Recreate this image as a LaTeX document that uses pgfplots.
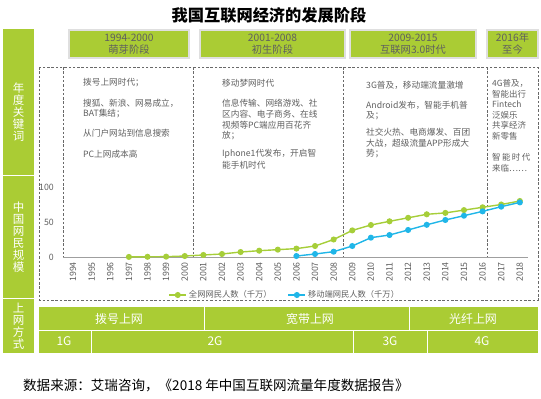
\documentclass[border=0pt]{standalone}
\usepackage{fontspec}
\setmainfont{Noto Sans CJK SC}
\usepackage{pgfplots}
\pgfplotsset{compat=1.18}
\definecolor{gr}{RGB}{170,204,52}
\definecolor{ln}{RGB}{166,206,57}
\definecolor{bl}{RGB}{32,182,232}
\definecolor{dg}{RGB}{105,105,105}
\definecolor{tx}{RGB}{95,95,95}
\newcommand{\fs}[2]{\fontsize{#1}{#2}\selectfont}
\begin{document}
\begin{tikzpicture}
\useasboundingbox (0,0) rectangle (541bp,-399bp);
\begin{scope}[x=1bp,y=-1bp]
% title
\node[font=\fs{16.3}{17}\bfseries] at (269,15) {我国互联网经济的发展阶段};
% left column
\fill[gr] (3,29) rectangle (34,353);
\draw[white, line width=0.9] (3,175) -- (34,175) (3,298) -- (34,298);
\node[white, font=\fs{11.5}{12}, align=center] at (18.5,112) {年\\度\\关\\键\\词};
\node[white, font=\fs{11.5}{12}, align=center] at (18.5,237) {中\\国\\网\\民\\规\\模};
\node[white, font=\fs{11.5}{12}, align=center] at (18.5,326) {上\\网\\方\\式};
% stage boxes
\foreach \a/\b/\t/\s in {69/189/1994-2000/萌芽阶段, 200/345/2001-2008/初生阶段, 350/476/2009-2015/互联网3.0时代, 487/538/2016年/至今}{
  \draw[gray!25, line width=1.2, fill=gr] (\a,30) rectangle (\b,58);
  \node[tx, align=center, font=\fs{10.3}{12}] at ({(\a+\b)/2},44) {\t\\\s};
}
% dashed frame
\draw[dg, dash pattern=on 2.5bp off 1.8bp, line width=0.7] (39,67) rectangle (538,300);
\foreach \xx in {63,193,343,487}{
  \draw[dg, dash pattern=on 2.5bp off 1.8bp, line width=0.7] (\xx,67) -- (\xx,257);
}
% keywords
\begin{scope}[every node/.style={anchor=west, inner sep=0, text=tx, font=\fs{8.7}{9}}]
\node at (83,83) {拨号上网时代；};
\node at (83,103) {搜狐、新浪、网易成立，};
\node at (83,114) {BAT集结；};
\node at (83,133) {从门户网站到信息搜索};
\node at (83,154) {PC上网成本高};
\node at (222,83) {移动梦网时代};
\node at (222,103) {信息传输、网络游戏、社};
\node at (222,114) {区内容、电子商务、在线};
\node at (222,125) {视频等PC端应用百花齐};
\node at (222,136) {放；};
\node at (222,154) {Iphone1代发布，开启智};
\node at (222,165) {能手机时代};
\node at (366,85) {3G普及，移动端流量激增};
\node at (366,105) {Android发布，智能手机普};
\node at (366,116) {及；};
\node at (366,132) {社交火热、电商爆发、百团};
\node at (366,143) {大战，超级流量APP形成大};
\node at (366,154) {势；};
\end{scope}
\begin{scope}[every node/.style={anchor=west, inner sep=0, text=tx, font=\fs{8.5}{9}}]
\node at (492,83) {4G普及，};
\node at (492,94) {智能出行};
\node at (492,104) {Fintech};
\node at (492,115) {泛娱乐};
\node at (492,125) {共享经济};
\node at (492,136) {新零售};
\node at (492,157) {智\,能\,时\,代};
\node at (492,168) {来临……};
\end{scope}
% bottom rows
\fill[gr] (39,307) rectangle (538,353);
\draw[white, line width=0.9] (39,330) -- (538,330)
  (204,307) -- (204,330) (409,307) -- (409,330)
  (91,330) -- (91,353) (353,330) -- (353,353) (427,330) -- (427,353);
\begin{scope}[every node/.style={text=white, font=\fs{12}{12}}]
\node at (119,318.5) {拨号上网};
\node at (310,318.5) {宽带上网};
\node at (473,318.5) {光纤上网};
\node at (64,341.5) {1G};
\node at (215,341.5) {2G};
\node at (390,341.5) {3G};
\node at (482,341.5) {4G};
\end{scope}
% source
\node[anchor=west, inner sep=0, font=\fs{13.6}{14}] at (23,385) {数据来源：艾瑞咨询，《2018 年中国互联网流量年度数据报告》};
\end{scope}
\begin{axis}[
  at={(63bp,-257bp)}, anchor=south west,
  scale only axis, width=465bp, height=70bp,
  xmin=1993.46, xmax=2018.44, ymin=0, ymax=100,
  axis lines*=left,
  y axis line style={draw=none},
  x axis line style={draw=gray!75, line width=0.8},
  tick style={draw=none},
  xtick={1994,...,2018}, ytick={0,50,100},
  /pgf/number format/assume math mode=true,
  /pgf/number format/1000 sep={},
  x tick label style={rotate=90, anchor=east, inner sep=0, font=\fs{8.8}{9}, text=tx},
  xticklabel shift=5bp,
  y tick label style={anchor=east, inner sep=0, font=\fs{8.8}{9}, text=tx},
  yticklabel shift=9bp,
  clip=false,
  legend columns=2,
  legend style={draw=none, fill=none, at={(0.477,-0.543)}, anchor=center,
    font=\fs{8.3}{9}, text=tx, inner sep=0,
    /tikz/every even column/.append style={column sep=14bp}},
]
\addplot[ln, line width=1.4bp, mark=*, mark size=2.3bp, mark options={fill=ln, draw=ln}] coordinates {
(1997,0.1) (1998,0.3) (1999,0.5) (2000,1.4) (2001,2.9) (2002,4.3) (2003,7.1) (2004,9.0) (2005,10.5) (2006,12) (2007,15.7) (2008,25) (2009,38) (2010,45.7) (2011,51) (2012,56) (2013,61) (2014,63) (2015,67) (2016,71) (2017,75) (2018,80)
};
\addlegendentry{全网网民人数（千万）}
\addplot[bl, line width=1.4bp, mark=*, mark size=2.3bp, mark options={fill=bl, draw=bl}] coordinates {
(2006,1.4) (2007,4.3) (2008,7.6) (2009,15.7) (2010,27.6) (2011,31.4) (2012,38.6) (2013,46) (2014,52.9) (2015,59) (2016,65.2) (2017,71.9) (2018,78)
};
\addlegendentry{移动端网民人数（千万）}
\end{axis}
\end{tikzpicture}
\end{document}
